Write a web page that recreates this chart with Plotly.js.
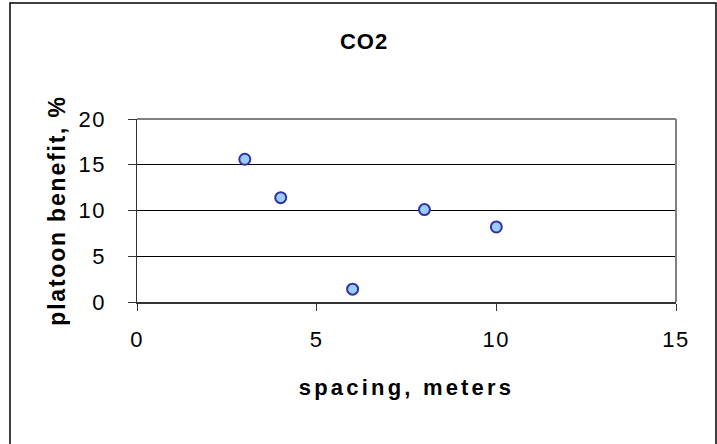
<!DOCTYPE html>
<html>
<head>
<meta charset="utf-8">
<script src="https://cdn.plot.ly/plotly-3.0.1.min.js"></script>
<style>
  html, body { margin: 0; padding: 0; background: #fff; }
  #chart { width: 717px; height: 444px; }
  .gtitle { letter-spacing: 1px; }
  .xtitle { letter-spacing: 3.2px; }
  .ytitle { letter-spacing: 1.8px; }
  .xtick text, .ytick text { letter-spacing: 1.5px; }
</style>
</head>
<body>
<div id="chart"></div>
<script>
// Data
const chartTitle = "CO2";
const xTitle = "spacing, meters";
const yTitle = "platoon benefit, %";
const spacing = [3, 4, 6, 8, 10];
const benefit = [15.6, 11.4, 1.4, 10.1, 8.2];
const xTicks = [0, 5, 10, 15];
const yTicks = [0, 5, 10, 15, 20];

const W = 717, H = 444;
const m = { l: 137, r: 41, t: 119, b: 142 };
const pw = W - m.l - m.r, ph = H - m.t - m.b;
const px = v => (v - m.l) / pw;
const py = v => (H - m.b - v) / ph;

const font = "'Liberation Sans', Arial, sans-serif";

const trace = {
  type: 'scatter',
  mode: 'markers',
  x: spacing,
  y: benefit,
  marker: { size: 11, color: '#99CCFF', line: { color: '#333399', width: 2 } },
  hoverinfo: 'x+y'
};

const layout = {
  width: W, height: H,
  margin: m,
  paper_bgcolor: '#ffffff',
  plot_bgcolor: '#ffffff',
  showlegend: false,
  font: { family: font, color: '#000' },
  title: {
    text: chartTitle,
    font: { family: font, size: 22, weight: 'bold', color: '#000' },
    xref: 'container', x: 364 / W, xanchor: 'center',
    yref: 'container', y: 1 - 41 / H, yanchor: 'middle'
  },
  xaxis: {
    range: [0, 15],
    tickvals: xTicks,
    ticktext: xTicks.map(String),
    showgrid: false,
    zeroline: false,
    showline: true, linecolor: '#333333', linewidth: 1.5,
    ticks: 'outside', ticklen: 7, tickcolor: '#333333', tickwidth: 1,
    ticklabelstandoff: 10,
    tickfont: { family: font, size: 22, color: '#000' },
    automargin: false,
    fixedrange: true,
    title: { text: xTitle, font: { family: font, size: 22, weight: 'bold', color: '#000' }, standoff: 28 }
  },
  yaxis: {
    range: [0, 20],
    tickvals: yTicks,
    ticktext: yTicks.map(String),
    showgrid: true, gridcolor: '#000000', gridwidth: 1,
    zeroline: false,
    showline: true, linecolor: '#333333', linewidth: 1.5,
    ticks: 'outside', ticklen: 8, tickcolor: '#333333', tickwidth: 1,
    ticklabelstandoff: 17,
    tickfont: { family: font, size: 22, color: '#000' },
    automargin: false,
    fixedrange: true,
    title: { text: yTitle, font: { family: font, size: 23, weight: 'bold', color: '#000' }, standoff: 6 }
  },
  shapes: [
    { type: 'line', xref: 'paper', yref: 'paper', x0: 0, x1: 1, y0: 1, y1: 1, line: { color: '#808080', width: 2 }, layer: 'above' },
    { type: 'line', xref: 'paper', yref: 'paper', x0: 1, x1: 1, y0: 0, y1: 1, line: { color: '#808080', width: 2 }, layer: 'above' },
    { type: 'rect', xref: 'paper', yref: 'paper',
      x0: px(10), x1: px(716), y0: py(450), y1: py(3),
      line: { color: '#000000', width: 1.5 }, fillcolor: 'rgba(0,0,0,0)', layer: 'below' }
  ]
};

Plotly.newPlot('chart', [trace], layout, { displayModeBar: false, staticPlot: true });
</script>
</body>
</html>
